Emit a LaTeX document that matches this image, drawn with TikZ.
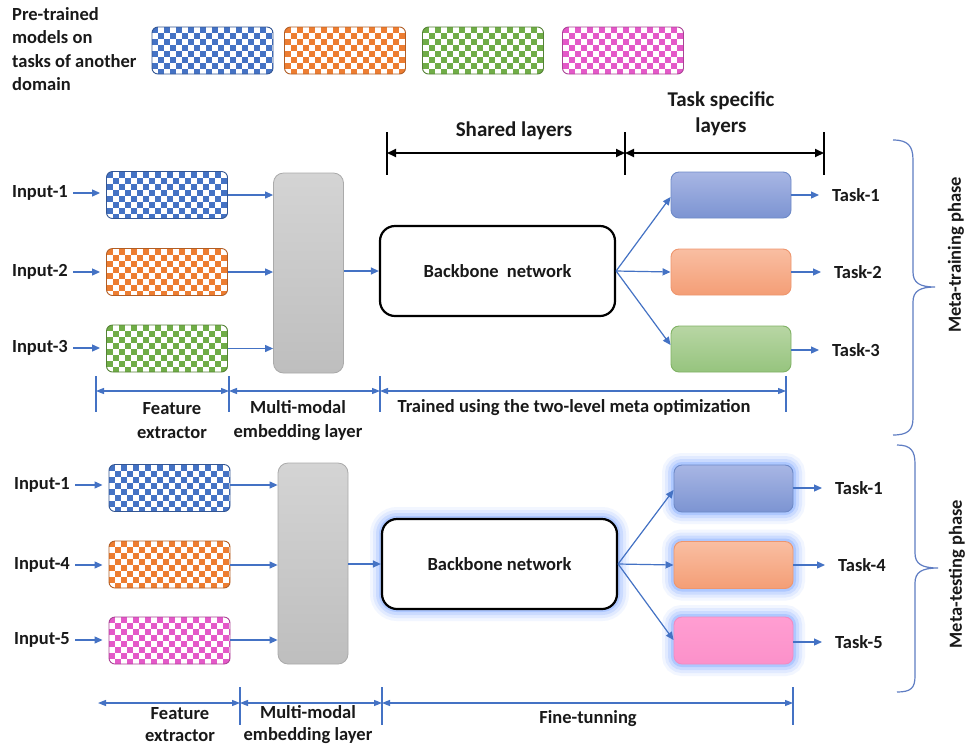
\documentclass[tikz,border=0pt]{standalone}
\usepackage{fontspec}
\setmainfont{Carlito}
\usetikzlibrary{arrows.meta}
\definecolor{cblue}{RGB}{68,114,196}
\definecolor{corange}{RGB}{237,125,49}
\definecolor{cgreen}{RGB}{112,173,71}
\definecolor{cpink}{RGB}{228,88,200}
\definecolor{arrowc}{RGB}{68,114,196}
\definecolor{bracec}{RGB}{95,125,195}
\definecolor{glowc}{RGB}{90,145,255}
\definecolor{txtc}{RGB}{25,25,25}
\definecolor{grayT}{RGB}{212,212,212}
\definecolor{grayB}{RGB}{190,190,190}
\definecolor{grayD}{RGB}{170,170,170}
\definecolor{tbT}{RGB}{168,182,228}
\definecolor{tbB}{RGB}{124,148,210}
\definecolor{tbD}{RGB}{110,138,200}
\definecolor{toT}{RGB}{249,190,162}
\definecolor{toB}{RGB}{244,158,118}
\definecolor{toD}{RGB}{238,150,110}
\definecolor{tgT}{RGB}{184,214,164}
\definecolor{tgB}{RGB}{150,196,126}
\definecolor{tgD}{RGB}{128,178,100}
\definecolor{tpT}{RGB}{255,158,210}
\definecolor{tpB}{RGB}{252,145,202}
\definecolor{tpD}{RGB}{240,140,195}
\begin{document}
\begin{tikzpicture}[x=1pt,y=-1pt,
  txt/.style={font=\bfseries\fontsize{18.5}{24}\selectfont, text=txtc, inner sep=0pt},
  htxt/.style={font=\bfseries\fontsize{21}{26}\selectfont, text=txtc, inner sep=0pt},
  chk/.style={rectangle, rounded corners=6pt, draw=#1!75!black, line width=0.9pt, fill=white,
    minimum width=121pt, minimum height=47pt, inner sep=0pt,
    path picture={\foreach \j in {0,...,8}{\pgfmathtruncatemacro\s{mod(\j,2)}\pgfmathtruncatemacro\e{\s+2}%
      \foreach \i in {\s,\e,...,20}{\fill[#1, sharp corners] ([shift={(\i*6,\j*6)}]path picture bounding box.north west) rectangle ++(6,6);}}}},
  graybox/.style={rectangle, rounded corners=10pt, draw=grayD, line width=0.8pt, top color=grayT, bottom color=grayB,
    minimum width=70pt, minimum height=200pt},
  bbone/.style={rectangle, rounded corners=15pt, draw=black, line width=2.2pt, fill=white,
    minimum width=235pt, minimum height=90pt, font=\bfseries\fontsize{18.5}{22}\selectfont, text=txtc},
  tbox/.style n args={3}{rectangle, rounded corners=8pt, draw=#3, line width=0.9pt, top color=#1, bottom color=#2,
    minimum width=120pt, minimum height=46pt},
  glow/.style={preaction={draw=glowc, draw opacity=0.08, line width=24pt},
    preaction={draw=glowc, draw opacity=0.11, line width=18pt},
    preaction={draw=glowc, draw opacity=0.16, line width=12pt},
    preaction={draw=glowc, draw opacity=0.25, line width=6pt}},
  barrow/.style={draw=arrowc, line width=1.2pt, -{Triangle[length=8pt,width=7pt]}},
  dimarrow/.style={draw=arrowc, line width=1.2pt, {Triangle[length=8pt,width=6pt]}-{Triangle[length=8pt,width=6pt]}},
  dtick/.style={draw=arrowc, line width=1.1pt},
  bdim/.style={draw=black, line width=2pt, {Triangle[length=9pt,width=8pt]}-{Triangle[length=9pt,width=8pt]}},
  btick/.style={draw=black, line width=2pt},
  brace/.style={draw=bracec, line width=1.2pt}
]
\useasboundingbox (0,0) rectangle (967,748);
\fill[white] (0,0) rectangle (967,748);

% ---------- legend ----------
\node[txt, anchor=north west, align=left, font=\bfseries\fontsize{18.5}{23.5}\selectfont] (pre) at (12,7) {Pre-trained\\models on\\tasks of another\\domain};
\node[chk=cblue] (lb) at (212.5,50.5) {};
\node[chk=corange] (lo) at (345,50.5) {};
\node[chk=cgreen] (lg) at (483,50.5) {};
\node[chk=cpink] (lp) at (623,50.5) {};

% ---------- header brackets ----------
\coordinate (h0) at (387,153);
\coordinate (h1) at (625,153);
\coordinate (h2) at (824,153);
\foreach \c in {h0,h1,h2}{\draw[btick] ([yshift=21pt]\c) -- ([yshift=-22pt]\c);}
\draw[bdim] (h0) -- (h1);
\draw[bdim] (h1) -- (h2);
\node[htxt] (shl) at (514,131) {Shared layers};
\node[htxt, align=center] (tsl) at (721,114) {Task specific\\layers};

% ---------- meta-training ----------
\node[chk=cblue] (f1) at (167,195) {};
\node[chk=corange] (f2) at (167,272) {};
\node[chk=cgreen] (f3) at (167,348.5) {};
\node[txt, anchor=east] (i1) at (68,193) {Input-1};
\node[txt, anchor=east] (i2) at (68,272) {Input-2};
\node[txt, anchor=east] (i3) at (68,348) {Input-3};
\draw[barrow, shorten <=5pt, shorten >=6pt] (i1) -- (f1.west |- i1);
\draw[barrow, shorten <=5pt, shorten >=6pt] (i2) -- (f2.west |- i2);
\draw[barrow, shorten <=5pt, shorten >=6pt] (i3) -- (f3.west |- i3);

\node[graybox] (g1) at (308.5,273) {};
\draw[barrow] (f1.east) -- (g1.west |- f1.east);
\draw[barrow] (f2.east) -- (g1.west |- f2.east);
\draw[barrow] (f3.east) -- (g1.west |- f3.east);

\node[bbone] (bb1) at (497.5,271) {Backbone\hspace{4pt} network};
\draw[barrow] (g1.east |- bb1.west) -- (bb1.west);

\node[tbox={tbT}{tbB}{tbD}] (t1) at (731,195) {};
\node[tbox={toT}{toB}{toD}] (t2) at (731,272) {};
\node[tbox={tgT}{tgB}{tgD}] (t3) at (731,349) {};
\draw[barrow] (bb1.east) -- ([yshift=-2pt]t1.west);
\draw[barrow] (bb1.east) -- (t2.west);
\draw[barrow] (bb1.east) -- ([yshift=4pt]t3.west);
\node[txt, anchor=west] (T1) at (832,195) {Task-1};
\node[txt, anchor=west] (T2) at (834,272) {Task-2};
\node[txt, anchor=west] (T3) at (832,350) {Task-3};
\draw[barrow, shorten >=13pt] (t1) -- (T1);
\draw[barrow, shorten >=13pt] (t2) -- (T2);
\draw[barrow, shorten >=13pt] (t3.east |- T3) -- (T3);

% dimension line top
\coordinate (d0) at (96,391);
\coordinate (d1) at (229,391);
\coordinate (d2) at (380,391);
\coordinate (d3) at (786,391);
\foreach \c in {d0,d1,d2,d3}{\draw[dtick] ([yshift=15pt]\c) -- ([yshift=-21pt]\c);}
\draw[dimarrow] (d0) -- (d1);
\draw[dimarrow] (d1) -- (d2);
\draw[dimarrow] (d2) -- (d3);
\node[txt, align=center] (fe1) at (172,420.5) {Feature\\extractor};
\node[txt, align=center] (mm1) at (298,420.5) {Multi-modal\\embedding layer};
\node[txt] (tr1) at (574,408) {Trained using the two-level meta optimization};

% ---------- meta-testing ----------
\node[chk=cblue] (k1) at (169.5,488) {};
\node[chk=corange] (k2) at (169.5,564.5) {};
\node[chk=cpink] (k3) at (169.5,640.5) {};
\node[txt, anchor=east] (j1) at (70,485) {Input-1};
\node[txt, anchor=east] (j2) at (70,565) {Input-4};
\node[txt, anchor=east] (j3) at (70,640) {Input-5};
\draw[barrow, shorten <=5pt, shorten >=6pt] (j1) -- (k1.west |- j1);
\draw[barrow, shorten <=5pt, shorten >=6pt] (j2) -- (k2.west |- j2);
\draw[barrow, shorten <=5pt, shorten >=6pt] (j3) -- (k3.west |- j3);

\node[graybox, minimum height=201pt] (g2) at (313,563.5) {};
\draw[barrow] (k1.east |- j1) -- (g2.west |- j1);
\draw[barrow] (k2.east |- j2) -- (g2.west |- j2);
\draw[barrow] (k3.east |- j3) -- (g2.west |- j3);

\node[bbone, glow] (bb2) at (499.5,564) {Backbone network};
\draw[barrow] (g2.east |- bb2.west) -- (bb2.west);

\node[tbox={tbT}{tbB}{tbD}, glow, minimum width=119pt, minimum height=47pt] (u1) at (733.5,488.5) {};
\node[tbox={toT}{toB}{toD}, glow, minimum width=119pt, minimum height=47pt] (u2) at (733.5,565) {};
\node[tbox={tpT}{tpB}{tpD}, glow, minimum width=119pt, minimum height=47pt] (u3) at (733.5,640.5) {};
\draw[barrow] (bb2.east) -- ([yshift=-1.5pt]u1.west);
\draw[barrow] (bb2.east) -- (u2.west);
\draw[barrow] (bb2.east) -- ([yshift=0.5pt]u3.west);
\node[txt, anchor=west] (U1) at (835,488) {Task-1};
\node[txt, anchor=west] (U2) at (838,565) {Task-4};
\node[txt, anchor=west] (U3) at (835,642) {Task-5};
\draw[barrow, shorten >=13pt] (u1.east |- U1) -- (U1);
\draw[barrow, shorten >=13pt] (u2.east |- U2) -- (U2);
\draw[barrow, shorten >=13pt] (u3.east |- U3) -- (U3);

% dimension line bottom
\coordinate (e0) at (98,703);
\coordinate (e1) at (240,703);
\coordinate (e2) at (382,703);
\coordinate (e3) at (793,703);
\foreach \c in {e1,e2,e3}{\draw[dtick] ([yshift=16pt]\c) -- ([yshift=-22pt]\c);}
\draw[dimarrow] (e0) -- (e1);
\draw[dimarrow] (e1) -- (e2);
\draw[dimarrow] (e2) -- (e3);
\node[txt, align=center, font=\bfseries\fontsize{18.5}{22}\selectfont] (fe2) at (180,725) {Feature\\extractor};
\node[txt, align=center, font=\bfseries\fontsize{18.5}{22}\selectfont] (mm2) at (308,725) {Multi-modal\\embedding layer};
\node[txt] (ft) at (588,719) {Fine-tunning};

% ---------- braces ----------
\draw[brace] (893,140) .. controls (908,140) and (913,146) .. (913,160) -- (913,272)
  .. controls (913,283) and (920,287) .. (935,287) .. controls (920,287) and (913,291) .. (913,302)
  -- (913,418) .. controls (913,430) and (908,435) .. (893,435);
\draw[brace] (897,445) .. controls (911,445) and (915,451) .. (915,464) -- (915,553)
  .. controls (915,564) and (922,568) .. (938,568) .. controls (922,568) and (915,572) .. (915,583)
  -- (915,676) .. controls (915,688) and (911,692) .. (897,692);
\node[txt, rotate=90] (mtr) at (956,255) {Meta-training phase};
\node[txt, rotate=90] (mte) at (957,574) {Meta-testing phase};
\end{tikzpicture}
\end{document}
